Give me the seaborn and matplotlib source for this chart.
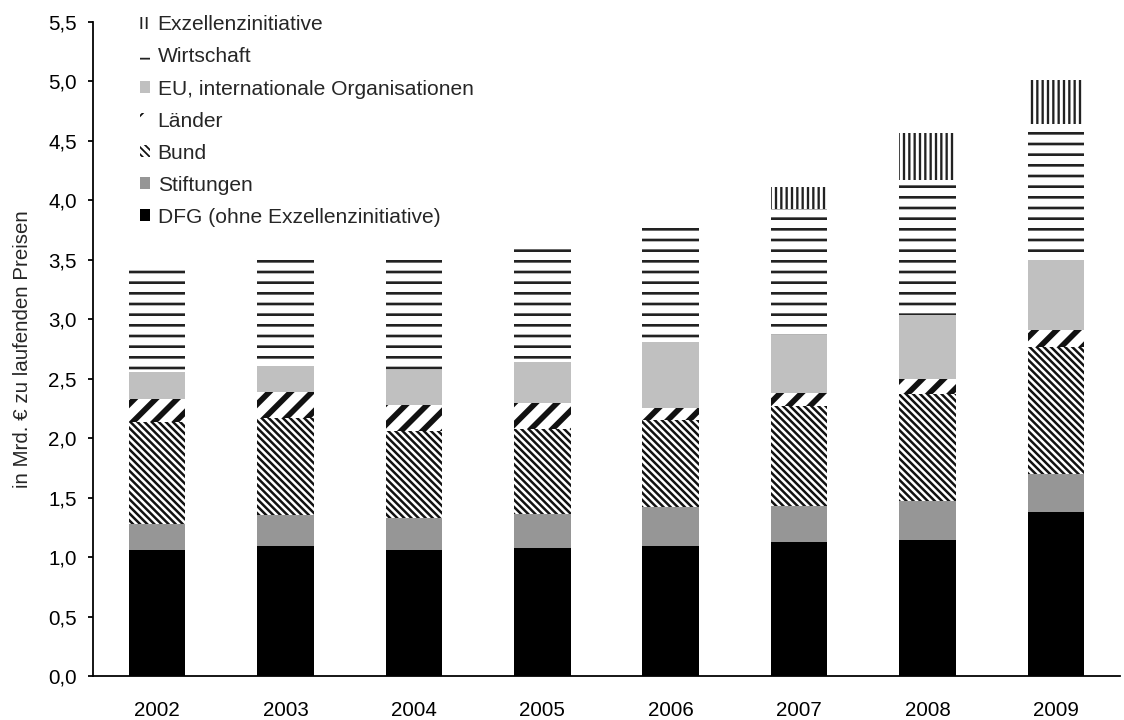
"""Stacked bar chart: research funding by source, 2002-2009 (seaborn, layered bars)."""
import matplotlib

matplotlib.use("Agg")

import matplotlib.patches as mpatches  # noqa: E402
import matplotlib.pyplot as plt  # noqa: E402
import numpy as np  # noqa: E402
import seaborn as sns  # noqa: E402

YEARS = ["2002", "2003", "2004", "2005", "2006", "2007", "2008", "2009"]

# Segment values in Mrd. EUR (bottom to top of each stack)
DFG = [1.06, 1.09, 1.06, 1.08, 1.09, 1.13, 1.14, 1.38]
STIFTUNGEN = [0.22, 0.26, 0.27, 0.28, 0.33, 0.30, 0.33, 0.32]
BUND = [0.86, 0.82, 0.73, 0.72, 0.73, 0.84, 0.90, 1.07]
LAENDER = [0.19, 0.22, 0.22, 0.22, 0.10, 0.11, 0.13, 0.14]
EU = [0.23, 0.22, 0.29, 0.34, 0.56, 0.49, 0.54, 0.59]
WIRTSCHAFT = [0.88, 0.92, 0.96, 0.96, 0.99, 1.06, 1.13, 1.14]
EXZELLENZ = [0.0, 0.0, 0.0, 0.0, 0.0, 0.18, 0.40, 0.37]

Y_TICKS = [0.0, 0.5, 1.0, 1.5, 2.0, 2.5, 3.0, 3.5, 4.0, 4.5, 5.0, 5.5]

# label, values, facecolor, hatch, hatch colour, hatch linewidth
LAYERS = [
    ("DFG (ohne Exzellenzinitiative)", DFG, "black", None, "black", 1.0),
    ("Stiftungen", STIFTUNGEN, "#969696", None, "#969696", 1.0),
    ("Bund", BUND, "white", "\\" * 6, "#111111", 1.4),
    ("Länder", LAENDER, "white", "//", "#111111", 3.2),
    ("EU, internationale Organisationen", EU, "#c0c0c0", None, "#c0c0c0", 1.0),
    ("Wirtschaft", WIRTSCHAFT, "white", "--", "#222222", 1.5),
    ("Exzellenzinitiative", EXZELLENZ, "white", "||||", "#222222", 1.3),
]

DPI = 128
FS = 11.5

sns.set_style("ticks")
plt.rcParams["font.family"] = ["Liberation Sans", "DejaVu Sans"]
plt.rcParams["font.size"] = FS


def style_patch(p, face, hatch, hcolor, hlw):
    p.set_facecolor(face)
    p.set_edgecolor(hcolor)
    p.set_linewidth(0)
    if hatch:
        p.set_hatch(hatch)
        if hasattr(p, "set_hatch_linewidth"):
            p.set_hatch_linewidth(hlw)


fig = plt.figure(figsize=(1124 / DPI, 720 / DPI), dpi=DPI)
ax = fig.add_axes([0.0827, 0.0611, 0.9137, 0.9083])

tops = np.cumsum(np.array([vals for _, vals, *_ in LAYERS]), axis=0)

# Draw cumulative totals from the top layer downwards so each lower layer covers the rest.
for i in reversed(range(len(LAYERS))):
    label, _, face, hatch, hcolor, hlw = LAYERS[i]
    n_before = len(ax.patches)
    with plt.rc_context({"hatch.linewidth": hlw}):
        sns.barplot(
            x=YEARS, y=tops[i], color=face, saturation=1, width=0.44,
            errorbar=None, linewidth=0, ax=ax,
        )
        for p in ax.patches[n_before:]:
            style_patch(p, face, hatch, hcolor, hlw)

ax.set_xlim(-0.5, 7.5)
ax.set_ylim(0, 5.5)
ax.set_yticks(Y_TICKS)
ax.set_yticklabels([f"{t:.1f}".replace(".", ",") for t in Y_TICKS])
ax.tick_params(axis="x", length=0, pad=14, labelsize=FS, colors="black")
ax.tick_params(axis="y", length=3, width=1, direction="out", pad=6, labelsize=FS, colors="black")
ax.set_xlabel("")
ax.set_ylabel("in Mrd. € zu laufenden Preisen", fontsize=FS, labelpad=9)
sns.despine(ax=ax)
for side in ("left", "bottom"):
    ax.spines[side].set_color("black")
    ax.spines[side].set_linewidth(1.0)

handles = []
for label, _, face, hatch, hcolor, hlw in reversed(LAYERS):
    with plt.rc_context({"hatch.linewidth": hlw}):
        h = mpatches.Patch(label=label)
        style_patch(h, face, hatch, hcolor, hlw)
    handles.append(h)

ax.legend(
    handles=handles, loc="upper left", bbox_to_anchor=(0.0455, 1.010),
    frameon=False, fontsize=11.8, handlelength=0.48, handleheight=0.48,
    handletextpad=0.38, labelspacing=0.62, borderpad=0, borderaxespad=0,
)

fig.savefig("out.png", dpi=DPI)
